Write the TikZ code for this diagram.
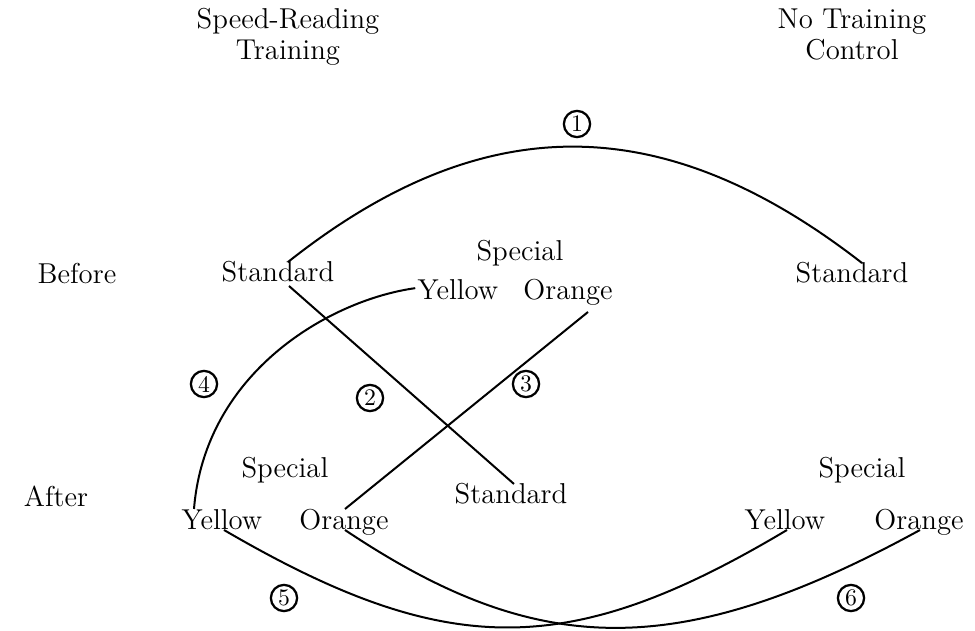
\documentclass[tikz,border=0pt]{standalone}
\usetikzlibrary{calc}
\begin{document}
\begin{tikzpicture}[x=0.4pt,y=-0.4pt,
  lbl/.style={font=\fontsize{11.5}{14}\selectfont, inner sep=0pt, anchor=base},
  num/.style={circle, draw, line width=0.9pt, inner sep=0pt, minimum size=10.5pt, font=\fontsize{9.5}{10}\selectfont},
  conn/.style={line width=0.8pt}]
\useasboundingbox (0,0) rectangle (975,631);
% column headings
\node[lbl] (srt1) at (288,29) {Speed-Reading};
\node[lbl] (srt2) at (288,60) {Training};
\node[lbl] (ntc1) at (852,29) {No Training};
\node[lbl] (ntc2) at (852,60) {Control};
% before row
\node[lbl] (before) at (77,284) {Before};
\node[lbl] (stdL) at (278,282) {Standard};
\node[lbl] (spcT) at (520,261) {Special};
\node[lbl] (yelT) at (458,300) {Yellow};
\node[lbl] (orgT) at (568,300) {Orange};
\node[lbl] (stdR) at (852,283) {Standard};
% after row
\node[lbl] (after) at (56,507) {After};
\node[lbl] (spcL) at (285,478) {Special};
\node[lbl] (yelL) at (222,530) {Yellow};
\node[lbl] (orgL) at (344,530) {Orange};
\node[lbl] (stdM) at (511,504) {Standard};
\node[lbl] (spcR) at (862,478) {Special};
\node[lbl] (yelR) at (785,530) {Yellow};
\node[lbl] (orgR) at (919,530) {Orange};
% circled numbers
\node[num] (n1) at (577,124) {1};
\node[num] (n2) at (370,398) {2};
\node[num] (n3) at (526,384) {3};
\node[num] (n4) at (204,384) {4};
\node[num] (n5) at (284,598) {5};
\node[num] (n6) at (851,598) {6};
% connector end points
\coordinate (a1) at ($(stdL.base)+(10,-20)$);
\coordinate (a2) at ($(stdR.base)+(10,-20)$);
\coordinate (b1) at ($(stdL.base)+(11,4)$);
\coordinate (b2) at ($(stdM.base)+(3,-20)$);
\coordinate (c1) at ($(orgT.base)+(20,12)$);
\coordinate (c2) at ($(orgL.base)+(1,-21)$);
\coordinate (d1) at ($(yelT.west)+(-2,-2)$);
\coordinate (d2) at ($(yelL.base)+(-28,-21)$);
\coordinate (e1) at ($(yelL.base)+(2,0)$);
\coordinate (e2) at ($(yelR.base)+(2,0)$);
\coordinate (f1) at ($(orgL.base)+(1,0)$);
\coordinate (f2) at ($(orgR.base)+(1,0)$);
% connectors
\draw[conn] (a1) .. controls (480,110) and (660,106) .. (a2);
\draw[conn] (b1) -- (b2);
\draw[conn] (c1) -- (c2);
\draw[conn] (d1) .. controls (330,300) and (205,372) .. (d2);
\draw[conn] (e1) .. controls (447,660) and (569,660) .. (e2);
\draw[conn] (f1) .. controls (535,657) and (675,664) .. (f2);
\end{tikzpicture}
\end{document}
